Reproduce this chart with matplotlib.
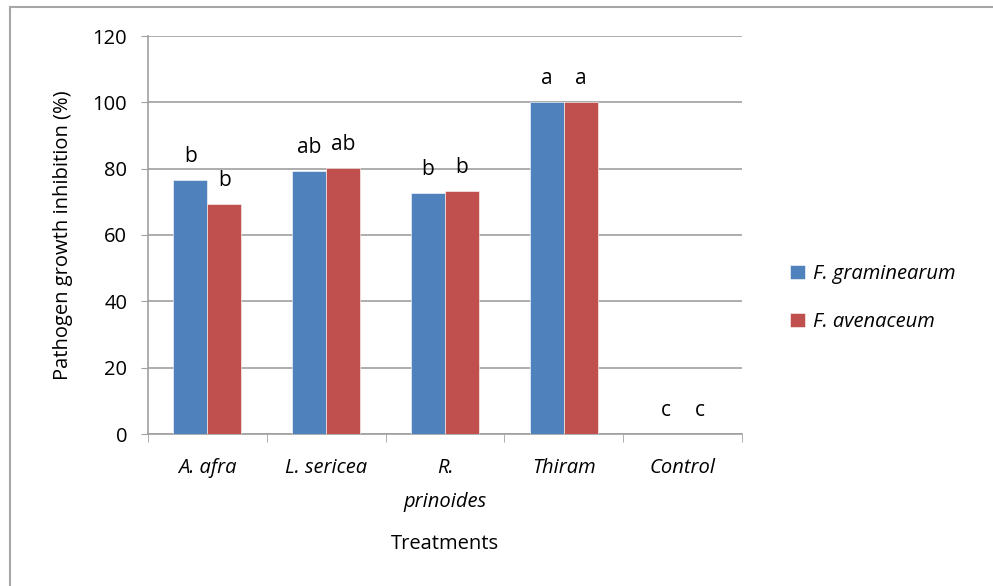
import numpy as np
import matplotlib.pyplot as plt
from matplotlib.lines import Line2D

plt.rcParams['font.family'] = ['Open Sans', 'DejaVu Sans']

# data
treatments = ['A. afra', 'L. sericea', 'R.\nprinoides', 'Thiram', 'Control']
graminearum = [76.5, 79.3, 72.6, 100, 0]
avenaceum = [69.3, 80.1, 73.2, 100, 0]
letters_gram = ['b', 'ab', 'b', 'a', 'c']
letters_aven = ['b', 'ab', 'b', 'a', 'c']
series_names = ['F. graminearum', 'F. avenaceum']

blue = '#4F81BD'
red = '#C0504D'
grid_c = '#a0a0a0'
fs = 14.5

fig = plt.figure(figsize=(9.93, 5.86), dpi=100)
ax = fig.add_axes([148/993, 1-434/586, 594/993, 398/586])

x = np.arange(len(treatments))
w = 0.286
b1 = ax.bar(x - w/2, graminearum, w, color=blue, edgecolor='white', linewidth=0.4, label=series_names[0], zorder=3)
b2 = ax.bar(x + w/2, avenaceum, w, color=red, edgecolor='white', linewidth=0.4, label=series_names[1], zorder=3)

for xi, v, t in zip(x - w/2, graminearum, letters_gram):
    ax.text(xi, v + 4, t, ha='center', va='bottom', fontsize=15)
for xi, v, t in zip(x + w/2, avenaceum, letters_aven):
    ax.text(xi, v + 4, t, ha='center', va='bottom', fontsize=15)

ax.set_xlim(-0.5, len(treatments) - 0.5)
ax.set_ylim(0, 120)
ax.set_yticks(np.arange(0, 121, 20))
ax.tick_params(axis='y', labelsize=fs, length=5, color=grid_c, pad=10)
ax.yaxis.grid(True, color=grid_c, linewidth=1.2, zorder=0)
ax.set_axisbelow(True)

ax.set_xticks(x)
ax.set_xticklabels(treatments, fontsize=fs, style='italic', va='top', linespacing=1.95)
ax.tick_params(axis='x', length=0, pad=17)
ax.set_xticks(np.arange(-0.5, len(treatments)), minor=True)
ax.tick_params(axis='x', which='minor', length=6, color=grid_c, direction='out')

for s in ['top', 'right']:
    ax.spines[s].set_visible(False)
for s in ['left', 'bottom']:
    ax.spines[s].set_color(grid_c)
    ax.spines[s].set_linewidth(1.2)

ax.set_ylabel('Pathogen growth inhibition (%)', fontsize=fs, labelpad=14)
ax.set_xlabel('Treatments', fontsize=fs, labelpad=16)

leg = fig.legend(handles=[b1, b2], labels=series_names, loc='center left',
                 bbox_to_anchor=(772/993, 1-298/586), frameon=False,
                 prop={'style': 'italic', 'size': fs}, handlelength=0.75,
                 handleheight=0.75, labelspacing=1.4, handletextpad=0.4)

# outer chart border (left and top visible)
fig.add_artist(Line2D([10/993, 10/993], [0, 1-7/586], color='#a6a6a6', lw=1.5, transform=fig.transFigure))
fig.add_artist(Line2D([10/993, 1], [1-7/586, 1-7/586], color='#a6a6a6', lw=1.5, transform=fig.transFigure))

fig.savefig('out.png', dpi=100)
